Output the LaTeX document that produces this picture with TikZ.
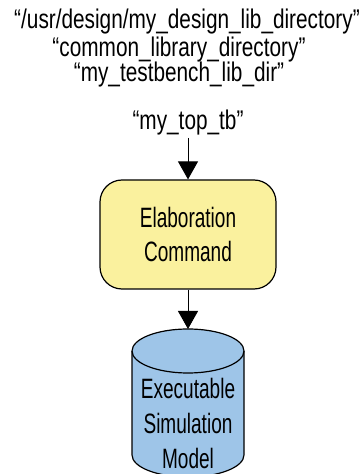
\documentclass[tikz,border=0pt]{standalone}
\usepackage{fontspec}
\setmainfont{Liberation Sans}[FakeStretch=0.68]
\newfontfamily\toplblfont{Liberation Sans}[FakeStretch=0.77]
\usetikzlibrary{arrows.meta}
\definecolor{boxyellow}{RGB}{250,241,158}
\definecolor{cylblue}{RGB}{158,197,232}
\tikzset{
  lbl/.style={font=\toplblfont\fontsize{27}{30}\selectfont, inner sep=0pt, anchor=base},
  flow/.style={draw=black, line width=0.9pt, -{Triangle[width=20pt,length=18pt]}},
  elab/.style={draw=black, line width=1.2pt, fill=boxyellow, rounded corners=22pt,
    minimum width=176pt, minimum height=109pt, align=center, inner sep=0pt,
    font=\fontsize{28}{34}\selectfont},
  cyltext/.style={align=center, inner sep=0pt, font=\fontsize{28}{35}\selectfont}
}
\begin{document}
\begin{tikzpicture}[x=1pt,y=1pt]
\useasboundingbox (0,0) rectangle (363,474);
\begin{scope}
\clip (0,0) rectangle (363,474);
% labels
\node[lbl] (l1) at (187,445) {“/usr/design/my\_design\_lib\_directory”};
\node[lbl] (l2) at (179,417) {“common\_library\_directory”};
\node[lbl] (l3) at (179,392) {“my\_testbench\_lib\_dir”};
\node[lbl] (l4) at (188,344) {“my\_top\_tb”};
\coordinate (a1start) at (188,336);
% elaboration box
\node[elab] (elab) at (188,239.5) {Elaboration\\Command};
% cylinder
\coordinate (cyltop) at (188,145);
\filldraw[fill=cylblue, draw=black, line width=1.2pt]
  (132,123) -- (132,19) arc[start angle=180, end angle=360, x radius=56pt, y radius=22pt]
  -- (244,123) arc[start angle=0, end angle=180, x radius=56pt, y radius=22pt] -- cycle;
\draw[line width=1.2pt] (132,123) arc[start angle=180, end angle=360, x radius=56pt, y radius=22pt];
\node[cyltext] (model) at (188,51) {Executable\\Simulation\\Model};
% connectors
\draw[flow] (a1start) -- (elab.north);
\draw[flow] (elab.south) -- (cyltop);
\end{scope}
\end{tikzpicture}
\end{document}
